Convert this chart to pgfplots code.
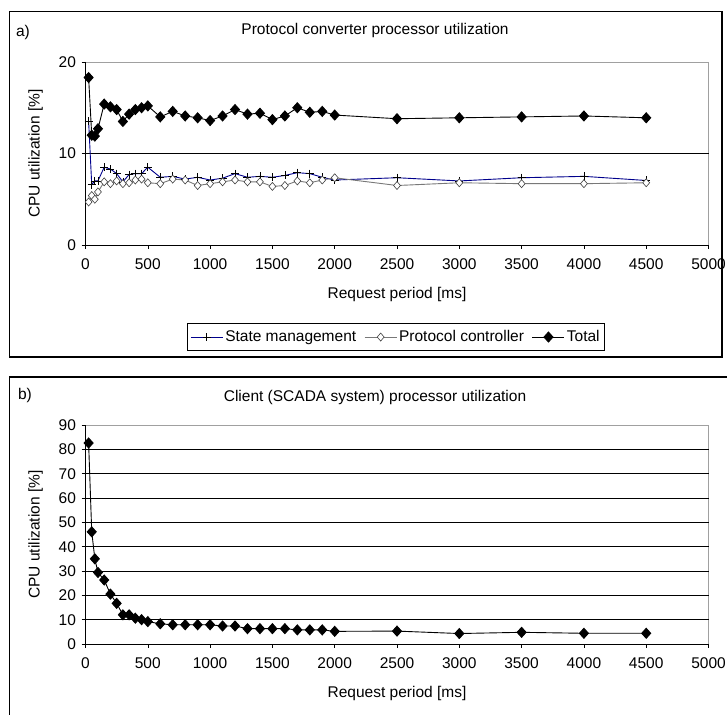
\documentclass[border=0pt]{standalone}
\usepackage{pgfplots}
\usepackage{pgfplotstable}
\pgfplotsset{compat=1.18}
\usepackage{fontspec}
\setmainfont{Liberation Sans}
\newcommand\fs{\fontsize{15.5bp}{18bp}\selectfont}
\definecolor{smblue}{RGB}{0,0,140}
\definecolor{pcgray}{RGB}{120,120,120}
\definecolor{bordergray}{RGB}{160,160,160}

\pgfplotstableread{
x sm pc tot
25 13.5 4.7 18.3
50 6.6 5.4 12.0
75 7.0 5.0 11.9
100 7.0 5.8 12.7
150 8.5 6.9 15.4
200 8.3 6.7 15.1
250 7.8 7.0 14.8
300 6.9 6.7 13.5
350 7.7 6.8 14.3
400 7.8 7.1 14.8
450 7.8 7.2 15.0
500 8.5 6.8 15.2
600 7.4 6.7 14.0
700 7.5 7.2 14.6
800 7.2 7.1 14.1
900 7.4 6.5 13.9
1000 7.1 6.7 13.6
1100 7.3 6.9 14.1
1200 7.8 7.1 14.8
1300 7.4 6.9 14.3
1400 7.5 6.9 14.4
1500 7.4 6.4 13.7
1600 7.6 6.5 14.1
1700 7.9 7.0 15.0
1800 7.8 6.8 14.5
1900 7.4 7.1 14.6
2000 7.1 7.35 14.2
2500 7.35 6.5 13.8
3000 7.0 6.8 13.9
3500 7.35 6.7 14.0
4000 7.5 6.7 14.1
4500 7.05 6.8 13.9
}\tabA

\pgfplotstableread{
x cl
25 82.6
50 46.1
75 35.0
100 29.4
150 26.3
200 20.5
250 16.7
300 12.0
350 12.0
400 10.6
450 10.0
500 9.2
600 8.3
700 7.9
800 7.9
900 7.9
1000 7.9
1100 7.4
1200 7.4
1300 6.3
1400 6.3
1500 6.3
1600 6.3
1700 5.8
1800 5.8
1900 5.8
2000 5.2
2500 5.3
3000 4.3
3500 4.8
4000 4.4
4500 4.4
}\tabB

\pgfplotsset{
  myaxis/.style={
    scale only axis, width=623bp,
    xmin=0, xmax=5000, xtick={0,500,...,5000},
    scaled x ticks=false, scaled y ticks=false,
    /pgf/number format/1000 sep={},
    /pgf/number format/assume math mode=true,
    tick align=outside, xtick pos=bottom, ytick pos=left,
    major tick length=4bp,
    tick style={black, line width=0.6bp},
    axis line style={bordergray, line width=0.6bp},
    tick label style={font=\fs},
    xticklabel style={yshift=-6bp},
    yticklabel style={xshift=-2bp},
    label style={font=\fs},
    clip=false,
  },
  legend image code/.code={%
    \draw[mark repeat=2,mark phase=2,#1] plot coordinates {(0bp,0bp) (16bp,0bp) (32bp,0bp)};},
}

\begin{document}
\begin{tikzpicture}[x=1bp,y=1bp]
\useasboundingbox (0,0) rectangle (727,715);
\begin{scope}
\clip (0,0) rectangle (727,715);
\draw[black, line width=1.2bp] (9.5,703.5) rectangle (722,358);
\draw[black, line width=1.2bp] (9.5,-20) rectangle (745,338);
\end{scope}

\node[font=\fs] at (375,684) {Protocol converter processor utilization};
\node[font=\fs] at (23,683) {a)};
\node[font=\fs] at (375,318) {Client (SCADA system) processor utilization};
\node[font=\fs] at (25,320) {b)};

% Panel a
\begin{axis}[myaxis,
  at={(85.5bp,470bp)}, anchor=south west, height=183bp,
  ymin=0, ymax=20, ytick={0,10,20},
  xlabel={Request period [ms]},
  ylabel={CPU utilization [\%]},
  xlabel style={at={(axis description cs:0.5,-0.273)}, anchor=center},
  ylabel style={at={(axis description cs:-0.08,0.5)}, anchor=center, rotate=0},
  legend style={at={(axis description cs:0.4984,-0.503)}, anchor=center,
    legend columns=3, draw=black, line width=0.8bp, font=\fs,
    inner xsep=3bp, inner ysep=5bp,
    /tikz/every even column/.append style={column sep=6bp}},
]
\draw[black, line width=0.8bp] (axis cs:0,10) -- (axis cs:5000,10);
\addplot[smblue, line width=0.9bp, mark=+, mark size=4bp,
  mark options={black, line width=0.7bp}] table[x=x,y=sm] {\tabA};
\addlegendentry{State management}
\addplot[pcgray, line width=0.9bp, mark=diamond*, mark size=4bp,
  mark options={draw=black!75, fill=white, line width=0.6bp, xscale=1.15}] table[x=x,y=pc] {\tabA};
\addlegendentry{Protocol controller}
\addplot[black, line width=0.9bp, mark=diamond*, mark size=5bp,
  mark options={black, fill=black, xscale=1.2}] table[x=x,y=tot] {\tabA};
\addlegendentry{Total}
\draw[black, line width=0.8bp] (rel axis cs:0,1) -- (rel axis cs:0,0) -- (rel axis cs:1,0);
\end{axis}

% Panel b
\begin{axis}[myaxis,
  at={(85.5bp,71bp)}, anchor=south west, height=219bp,
  ymin=0, ymax=90, ytick={0,10,...,90},
  xlabel={Request period [ms]},
  ylabel={CPU utilization [\%]},
  xlabel style={at={(axis description cs:0.5,-0.224)}, anchor=center},
  ylabel style={at={(axis description cs:-0.08,0.5)}, anchor=center, rotate=0},
]
\foreach \g in {10,20,...,80} {
  \edef\tmp{\noexpand\draw[black, line width=0.8bp] (axis cs:0,\g) -- (axis cs:5000,\g);}\tmp
}
\addplot[black, line width=0.9bp, mark=diamond*, mark size=5bp,
  mark options={black, fill=black, xscale=1.2}] table[x=x,y=cl] {\tabB};
\draw[black, line width=0.8bp] (rel axis cs:0,1) -- (rel axis cs:0,0) -- (rel axis cs:1,0);
\end{axis}
\end{tikzpicture}
\end{document}
